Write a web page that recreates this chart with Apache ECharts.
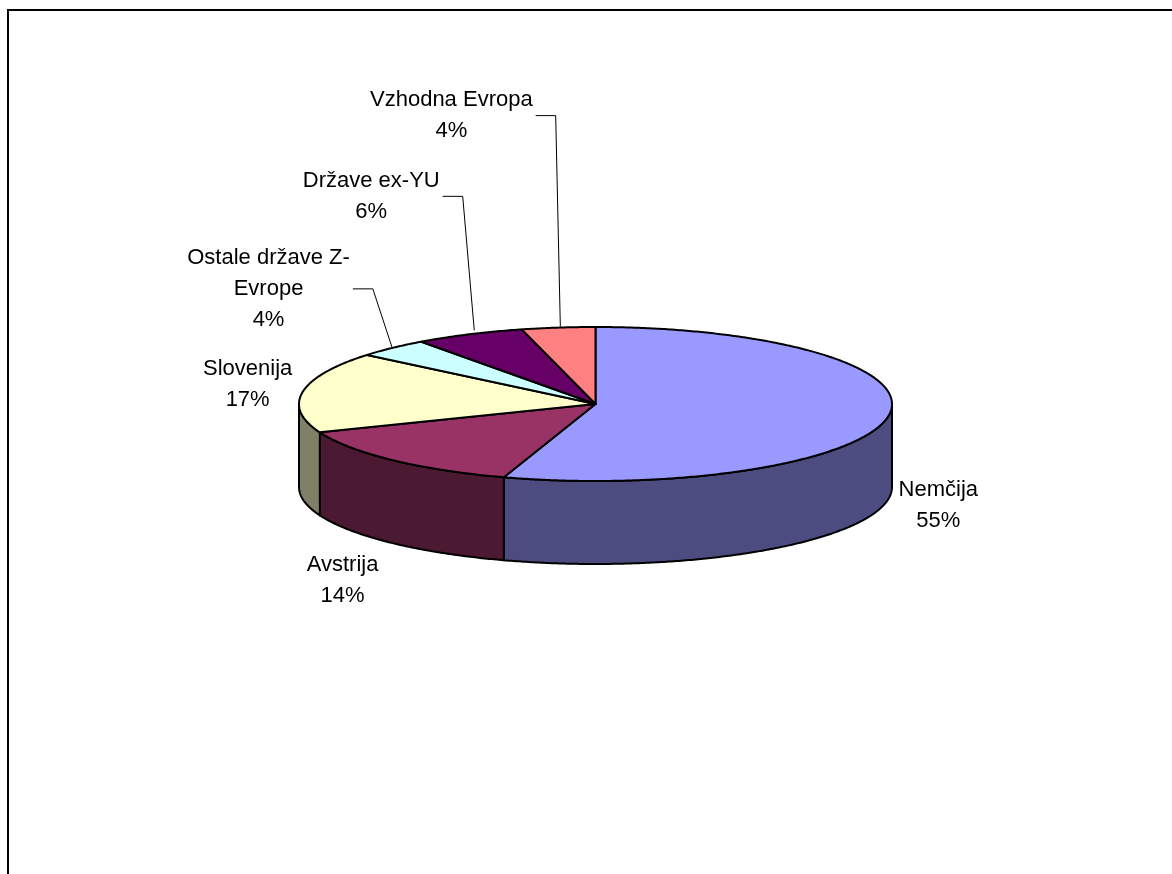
<!DOCTYPE html>
<html><head><meta charset="utf-8">
<script src="https://cdn.jsdelivr.net/npm/echarts@6/dist/echarts.min.js"></script>
<style>html,body{margin:0;padding:0;background:#fff}#c{width:1172px;height:874px}</style>
</head><body><div id="c"></div>
<script>
// ---- data ----
const categories = ['Nemčija', 'Avstrija', 'Slovenija', 'Ostale države Z-Evrope', 'Države ex-YU', 'Vzhodna Evropa'];
const values = [55, 14, 17, 4, 6, 4];

// ---- styles / layout ----
const topColors = ['#9999FF', '#993366', '#FFFFCC', '#CCFFFF', '#660066', '#FF8080'];
const sideColors = ['#4C4C80', '#4C1933', '#808066', '#668080', '#330033', '#804040'];
const PIE = { cx: 595.5, cy: 404, rx: 296.5, ry: 77, depth: 83 };
const labelOffsets = [[50, 89], [-50, 120], [-55, -8], [-124, -59], [-98, -138], [-107, -212]];
const leaderEndShift = [[0, 0], [0, 0], [0, 0], [0, 1], [5, -4], [2, -1]];
const hasLeader = [false, false, false, true, true, true];
const FONT_SIZE = 22, LINE_H = 31, FONT_FAMILY = '"Liberation Sans", Arial, sans-serif';

const total = values.reduce((a, b) => a + b, 0);
const starts = []; let acc = 0;
values.forEach(v => { starts.push(acc / total * 2 * Math.PI); acc += v; });
const ends = values.map((v, i) => starts[i] + v / total * 2 * Math.PI);

function pt(t, dy) { return [PIE.cx + PIE.rx * Math.sin(t), PIE.cy - PIE.ry * Math.cos(t) + (dy || 0)]; }
function arc(a, b, dy) {
  const n = Math.max(2, Math.ceil(Math.abs(b - a) / (Math.PI / 360)));
  const pts = [];
  for (let k = 0; k <= n; k++) pts.push(pt(a + (b - a) * k / n, dy));
  return pts;
}
function wrapLabel(s) { return s.length > 16 ? s.replace(/-(?=\S)/, '-\n') : s; }

const measure = document.createElement('canvas').getContext('2d');
measure.font = FONT_SIZE + 'px ' + FONT_FAMILY;

const seriesData = values.map((v, i) => ({ name: categories[i], value: v }));

const chart = echarts.init(document.getElementById('c'), null, { renderer: 'canvas' });
chart.setOption({
  animation: false,
  backgroundColor: '#fff',
  graphic: [{
    type: 'rect', shape: { x: 8, y: 10, width: 1400, height: 1000 },
    style: { fill: 'none', stroke: '#000', lineWidth: 2 }, silent: true
  }],
  series: [
    {
      type: 'custom', name: 'sides', coordinateSystem: 'none', data: seriesData, z: 1,
      renderItem(params, api) {
        const i = params.dataIndex;
        const lo = Math.max(starts[i], Math.PI / 2), hi = Math.min(ends[i], 3 * Math.PI / 2);
        if (!(lo < hi)) return { type: 'group', children: [] };
        const pts = arc(lo, hi, 0).concat(arc(hi, lo, PIE.depth));
        return {
          type: 'polygon', shape: { points: pts },
          style: { fill: sideColors[i], stroke: '#000', lineWidth: 2, lineJoin: 'round' }
        };
      }
    },
    {
      type: 'custom', name: 'tops', coordinateSystem: 'none', data: seriesData, z: 2,
      renderItem(params, api) {
        const i = params.dataIndex;
        const pts = [[PIE.cx, PIE.cy]].concat(arc(starts[i], ends[i], 0));
        return {
          type: 'polygon', shape: { points: pts },
          style: { fill: topColors[i], stroke: '#000', lineWidth: 2, lineJoin: 'round' }
        };
      }
    },
    {
      type: 'custom', name: 'labels', coordinateSystem: 'none', data: seriesData, z: 3,
      renderItem(params, api) {
        const i = params.dataIndex;
        const mid = (starts[i] + ends[i]) / 2;
        const e = pt(mid, 0);
        const lx = e[0] + labelOffsets[i][0], ly = e[1] + labelOffsets[i][1];
        const pct = Math.round(api.value(0) / total * 100) + '%';
        const txt = wrapLabel(categories[i]) + '\n' + pct;
        const children = [{
          type: 'text', x: lx, y: ly,
          style: {
            text: txt, align: 'center', verticalAlign: 'middle',
            fontSize: FONT_SIZE, fontFamily: FONT_FAMILY, lineHeight: LINE_H, fill: '#000'
          }
        }];
        if (hasLeader[i]) {
          const w = Math.max.apply(null, txt.split('\n').map(s => measure.measureText(s).width));
          const sx = lx + w / 2 + 3;
          const end = [e[0] + leaderEndShift[i][0], e[1] + leaderEndShift[i][1]];
          children.push({
            type: 'polyline', shape: { points: [[sx, ly], [sx + 20, ly], end] },
            style: { fill: 'none', stroke: '#000', lineWidth: 1 }
          });
        }
        return { type: 'group', children };
      }
    }
  ]
});
</script>
</body></html>
